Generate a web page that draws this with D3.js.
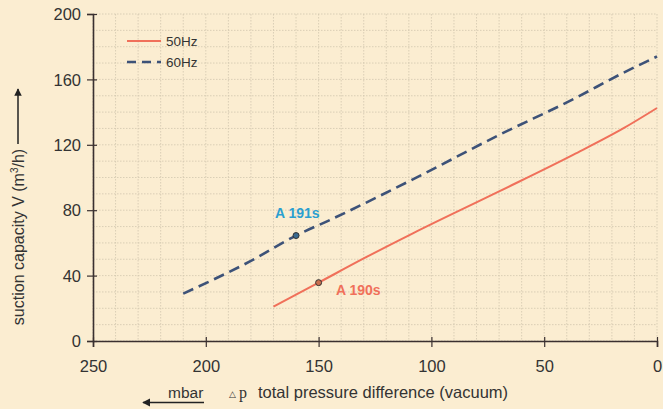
<!DOCTYPE html>
<html><head><meta charset="utf-8">
<script src="https://cdn.jsdelivr.net/npm/d3@7"></script>
<style>
body{margin:0;background:#fbedd1;}
svg{display:block;font-family:"Liberation Sans",Arial,sans-serif;}
</style></head>
<body><svg id="c" width="663" height="409"></svg>
<script>
const xTicks = [250, 200, 150, 100, 50, 0];
const yTicks = [0, 40, 80, 120, 160, 200];
const hz60_dp = [210, 180, 160, 145, 108, 70, 37, 15, 0];
const hz60_v  = [29, 49, 64.5, 74, 99, 126, 148, 164, 174];
const hz50_dp = [170, 150, 130, 108, 70, 37, 15, 0];
const hz50_v  = [21, 35.7, 50.5, 66, 91.5, 114, 130, 142.5];
const markers = [{dp:160, v:64.5, fill:"#3a6a90"}, {dp:150, v:35.7, fill:"#c87050"}];
const seriesNames = ["50Hz", "60Hz"];

const svg = d3.select("#c");
const L = 93, R = 657, T = 14, B = 341;
const x = d3.scaleLinear().domain([250, 0]).range([L, R]);
const y = d3.scaleLinear().domain([0, 200]).range([B, T]);

// grid
const g = svg.append("g");
g.selectAll(".gx").data(d3.range(0, 251, 10)).join("line")
  .attr("x1", d => x(d)).attr("x2", d => x(d)).attr("y1", T).attr("y2", B)
  .attr("stroke", "#d2c6ae").attr("stroke-width", 0.8).attr("stroke-dasharray", "1.5,1.5");
g.selectAll(".gy").data(d3.range(0, 201, 10)).join("line")
  .attr("y1", d => y(d)).attr("y2", d => y(d)).attr("x1", L).attr("x2", R)
  .attr("stroke", "#d2c6ae").attr("stroke-width", 0.8).attr("stroke-dasharray", "1.5,1.5");

// axes
const ax = svg.append("g").attr("transform", `translate(0,${B})`)
  .call(d3.axisBottom(x).tickValues(xTicks).tickSize(6).tickPadding(13));
ax.select(".domain").attr("stroke", "#3a3030").attr("stroke-width", 1.6);
ax.selectAll(".tick line").attr("stroke", "#3a3030").attr("y1", -4).attr("stroke-width", 1.2);
ax.selectAll("text").attr("font-size", 16.5).attr("fill", "#333").attr("font-family", "Liberation Sans, Arial");

const ay = svg.append("g").attr("transform", `translate(${L},0)`)
  .call(d3.axisLeft(y).tickValues(yTicks).tickSize(6).tickPadding(6));
ay.select(".domain").attr("stroke", "#3a3030").attr("stroke-width", 1.6);
ay.selectAll(".tick line").attr("stroke", "#3a3030").attr("x1", -6).attr("x2", 4).attr("stroke-width", 1.2);
ay.selectAll("text").attr("font-size", 16.5).attr("fill", "#333").attr("dy", "0.35em").attr("font-family", "Liberation Sans, Arial");

// lines
const line = d3.line().x(d => x(d[0])).y(d => y(d[1])).curve(d3.curveMonotoneX);
svg.append("path").datum(hz50_dp.map((d, i) => [d, hz50_v[i]]))
  .attr("d", line).attr("fill", "none").attr("stroke", "#f0705a").attr("stroke-width", 2);
svg.append("path").datum(hz60_dp.map((d, i) => [d, hz60_v[i]]))
  .attr("d", line).attr("fill", "none").attr("stroke", "#3d5278").attr("stroke-width", 2.6)
  .attr("stroke-dasharray", "11,6");

// markers
svg.selectAll(".mk").data(markers).join("circle")
  .attr("cx", d => x(d.dp)).attr("cy", d => y(d.v)).attr("r", 3)
  .attr("fill", d => d.fill).attr("stroke", "#333").attr("stroke-width", 1);

// labels
svg.append("text").attr("x", 275).attr("y", 218).text("A 191s")
  .attr("font-size", 14).attr("font-weight", "bold").attr("fill", "#2b9fd0");
svg.append("text").attr("x", 336).attr("y", 295).text("A 190s")
  .attr("font-size", 14).attr("font-weight", "bold").attr("fill", "#f0705a");

// legend
svg.append("line").attr("x1", 127).attr("x2", 161).attr("y1", 41).attr("y2", 41)
  .attr("stroke", "#f0705a").attr("stroke-width", 2);
svg.append("line").attr("x1", 127).attr("x2", 161).attr("y1", 62).attr("y2", 62)
  .attr("stroke", "#3d5278").attr("stroke-width", 2.4).attr("stroke-dasharray", "9,6");
svg.append("text").attr("x", 166).attr("y", 46).text(seriesNames[0]).attr("font-size", 13.5).attr("fill", "#333");
svg.append("text").attr("x", 166).attr("y", 67).text(seriesNames[1]).attr("font-size", 13.5).attr("fill", "#333");

// y title
const yt = svg.append("text").attr("transform", "translate(24,237) rotate(-90)")
  .attr("text-anchor", "middle").attr("font-size", 16).attr("fill", "#333");
yt.append("tspan").text("suction capacity V (m");
yt.append("tspan").text("3").attr("font-size", 10).attr("dy", -6);
yt.append("tspan").text("/h)").attr("dy", 6);
svg.append("defs").append("marker").attr("id", "ah").attr("viewBox", "0 0 10 10")
  .attr("refX", 9).attr("refY", 5).attr("markerWidth", 5).attr("markerHeight", 7).attr("orient", "auto")
  .append("path").attr("d", "M0,0L10,5L0,10z").attr("fill", "#222");
svg.append("line").attr("x1", 18).attr("x2", 18).attr("y1", 144).attr("y2", 89)
  .attr("stroke", "#222").attr("stroke-width", 1.5).attr("marker-end", "url(#ah)");

// x title
svg.append("text").attr("x", 168).attr("y", 398).text("mbar").attr("font-size", 15.5).attr("fill", "#333");
svg.append("line").attr("x1", 204).attr("x2", 143).attr("y1", 402.5).attr("y2", 402.5)
  .attr("stroke", "#222").attr("stroke-width", 1.6).attr("marker-end", "url(#ah)");
svg.append("text").attr("x", 229).attr("y", 397).text("△").attr("font-size", 9).attr("fill", "#333");
svg.append("text").attr("x", 239).attr("y", 398).text("p").attr("font-size", 16).attr("font-family", "Liberation Serif, serif").attr("fill", "#333");
svg.append("text").attr("x", 258).attr("y", 398).text("total pressure difference (vacuum)").attr("font-size", 16.5).attr("fill", "#333");
</script></body></html>
